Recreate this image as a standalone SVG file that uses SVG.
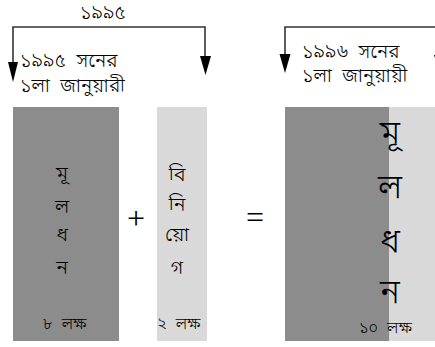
<svg xmlns="http://www.w3.org/2000/svg" width="435" height="347" viewBox="0 0 435 347">
  <style>
    text { font-family: "Noto Sans Bengali", "Noto Serif Bengali", "Lohit Bengali", "FreeSerif", "Noto Sans", sans-serif; fill: #000; font-weight: 300; }
    .lbl { font-size: 19px; word-spacing: 5px; letter-spacing: 0.3px; }
    .v { font-size: 20px; text-anchor: middle; }
    .big { font-size: 34px; text-anchor: middle; }
    .amt { font-size: 16px; word-spacing: 5px; }
    .op { font-family: "Liberation Serif", "DejaVu Serif", serif; font-size: 32px; text-anchor: middle; }
    .dark { fill: #8c8c8c; }
    .light { fill: #d9d9d9; }
    .conn { fill: none; stroke: #333; stroke-width: 1.6; }
  </style>

  <g id="connectors">
    <path class="conn" d="M205 62 V27 H13 V66"/>
    <path d="M8 62 L18 62 L13 82 Z" fill="#000"/>
    <path d="M200 56 L211 56 L205.5 75 Z" fill="#000"/>
    <path class="conn" d="M440 56 V27 H285 V58"/>
    <path d="M279.5 54 L290.5 54 L285 73 Z" fill="#000"/>
    <path d="M434 55 L446 55 L440 73 Z" fill="#000"/>
  </g>

  <g id="year-1995">
    <text class="lbl" x="103" y="19" text-anchor="middle">১৯৯৫</text>
  </g>

  <g id="date-1995">
    <text class="lbl" x="20" y="67">১৯৯৫ সনের</text>
    <text class="lbl" x="20" y="92">১লা জানুয়ারী</text>
  </g>

  <g id="date-1996">
    <text class="lbl" x="302" y="58">১৯৯৬ সনের</text>
    <text class="lbl" x="302" y="82">১লা জানুয়ায়ী</text>
  </g>

  <g id="capital">
    <rect class="dark" x="13" y="107" width="106" height="234"/>
    <text class="v" x="62" y="180">মূ</text>
    <text class="v" x="62" y="213">ল</text>
    <text class="v" x="62" y="241">ধ</text>
    <text class="v" x="62" y="274">ন</text>
    <text class="amt" x="43" y="329">৮ লক্ষ</text>
  </g>

  <g id="plus">
    <text class="op" x="136" y="229">+</text>
  </g>

  <g id="investment">
    <rect class="light" x="157" y="107" width="50" height="234"/>
    <text class="v" x="177" y="181">বি</text>
    <text class="v" x="177" y="211">নি</text>
    <text class="v" x="177" y="241">য়ো</text>
    <text class="v" x="177" y="274">গ</text>
    <text class="amt" x="157" y="329">২ লক্ষ</text>
  </g>

  <g id="equals">
    <text class="op" x="255" y="228">=</text>
  </g>

  <g id="total-capital">
    <rect class="dark" x="285" y="107" width="104" height="234"/>
    <rect class="light" x="389" y="107" width="46" height="234"/>
    <text class="big" x="390" y="144">মূ</text>
    <text class="big" x="390" y="198">ল</text>
    <text class="big" x="390" y="252">ধ</text>
    <text class="big" x="390" y="303">ন</text>
    <text class="amt" x="359" y="333">১০ লক্ষ</text>
  </g>
</svg>
